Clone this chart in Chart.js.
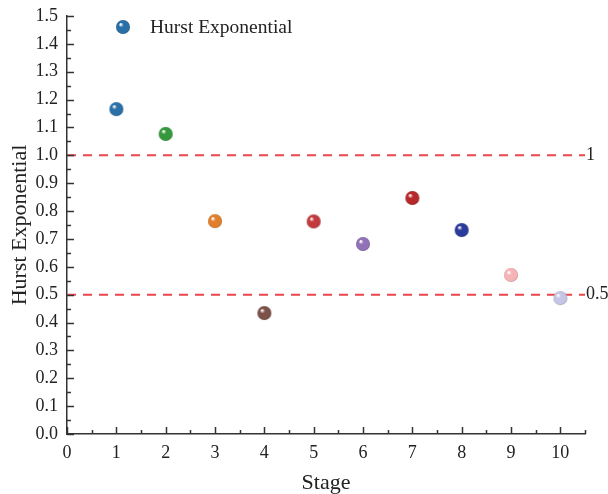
<!DOCTYPE html>
<html>
<head>
<meta charset="utf-8">
<script src="https://cdn.jsdelivr.net/npm/chart.js@4.4.0/dist/chart.umd.min.js"></script>
<style>
  html, body { margin: 0; padding: 0; background: #fff; }
  #wrap { width: 608px; height: 494px; }
</style>
</head>
<body>
<div id="wrap"><canvas id="hurstChart" width="608" height="494"></canvas></div>
<script>
const stages = [1, 2, 3, 4, 5, 6, 7, 8, 9, 10];
const hurst = [1.166, 1.077, 0.764, 0.434, 0.763, 0.682, 0.847, 0.732, 0.571, 0.488];
const pointColors = ['#2a70a8', '#35983b', '#e0802c', '#7b5148', '#c23a3c',
                     '#9272b6', '#b7282a', '#2b3b9b', '#f6b4b7', '#c6c5e6'];
const refLevels = [1, 0.5];
const refLabels = ['1', '0.5'];

const serif = "'Liberation Serif', 'Times New Roman', serif";
const axisColor = '#333';
const textColor = '#222';

// shaded ball used as the marker image
function makeBall(color, r) {
  const c = document.createElement('canvas');
  const size = r * 2 + 2;
  c.width = size; c.height = size;
  const g = c.getContext('2d');
  const cx = size / 2, cy = size / 2;
  const grad = g.createRadialGradient(cx - r * 0.35, cy - r * 0.4, 0.5, cx, cy, r);
  grad.addColorStop(0, '#ffffff');
  grad.addColorStop(0.3, color);
  grad.addColorStop(0.85, color);
  grad.addColorStop(1, shade(color, 0.8));
  g.fillStyle = grad;
  g.beginPath();
  g.arc(cx, cy, r, 0, Math.PI * 2);
  g.fill();
  return c;
}

function shade(hex, k) {
  const n = parseInt(hex.slice(1), 16);
  const r = Math.round(((n >> 16) & 255) * k);
  const gr = Math.round(((n >> 8) & 255) * k);
  const b = Math.round((n & 255) * k);
  return `rgb(${r},${gr},${b})`;
}

const balls = pointColors.map(c => makeBall(c, 7));

// inward major/minor ticks, reference labels and the legend
const decorations = {
  id: 'decorations',
  afterDraw(chart) {
    const { ctx, chartArea, scales: { x, y } } = chart;
    ctx.save();
    ctx.strokeStyle = axisColor;
    ctx.lineWidth = 1.5;
    ctx.beginPath();
    for (let i = 0; i <= 21; i++) {
      const px = Math.round(x.getPixelForValue(i * 0.5)) + 0.5;
      const len = i % 2 === 0 ? 7 : 4;
      ctx.moveTo(px, chartArea.bottom);
      ctx.lineTo(px, chartArea.bottom - len);
    }
    for (let i = 0; i <= 30; i++) {
      const py = Math.round(y.getPixelForValue(i * 0.05)) + 0.5;
      const len = i % 2 === 0 ? 7 : 4;
      ctx.moveTo(chartArea.left, py);
      ctx.lineTo(chartArea.left + len, py);
    }
    ctx.stroke();

    ctx.fillStyle = textColor;
    ctx.font = `18px ${serif}`;
    ctx.textBaseline = 'middle';
    ctx.textAlign = 'left';
    refLevels.forEach((v, i) => {
      ctx.fillText(refLabels[i], chartArea.right + 1, y.getPixelForValue(v));
    });

    // legend
    ctx.drawImage(balls[0], 123 - balls[0].width / 2, 27 - balls[0].height / 2);
    ctx.font = `19.5px ${serif}`;
    ctx.fillText('Hurst Exponential', 150, 28);
    ctx.restore();
  }
};

const refSets = refLevels.map(v => ({
  type: 'line',
  data: [{ x: 0, y: v }, { x: 10.5, y: v }],
  borderColor: '#e8464b',
  borderWidth: 2,
  borderDash: [9, 7],
  pointRadius: 0,
  fill: false
}));

new Chart(document.getElementById('hurstChart'), {
  type: 'scatter',
  data: {
    datasets: [
      {
        label: 'Hurst Exponential',
        data: stages.map((s, i) => ({ x: s, y: hurst[i] })),
        pointStyle: balls,
        pointRadius: 7,
        pointHoverRadius: 7
      },
      ...refSets
    ]
  },
  options: {
    responsive: false,
    animation: false,
    layout: { padding: { top: 16, right: 23, left: 0, bottom: 0 } },
    plugins: {
      legend: { display: false },
      tooltip: { enabled: false }
    },
    scales: {
      x: {
        type: 'linear',
        min: 0,
        max: 10.5,
        grid: { display: false, drawTicks: false },
        border: { display: true, color: axisColor, width: 1.5 },
        ticks: {
          stepSize: 1,
          includeBounds: false,
          padding: 8,
          autoSkip: false,
          maxRotation: 0,
          color: textColor,
          font: { family: serif, size: 18 }
        },
        title: {
          display: true,
          text: 'Stage',
          color: textColor,
          font: { family: serif, size: 22, lineHeight: 1 },
          padding: { top: 0, bottom: 0 }
        },
        afterFit(scale) {
          scale.height = 60;
          scale.paddingLeft = 0;
          scale.paddingRight = 0;
        }
      },
      y: {
        min: 0,
        max: 1.5,
        grid: { display: false, drawTicks: false },
        border: { display: true, color: axisColor, width: 1.5 },
        ticks: {
          stepSize: 0.1,
          padding: 9,
          autoSkip: false,
          color: textColor,
          font: { family: serif, size: 18 },
          callback: v => v.toFixed(1)
        },
        title: {
          display: true,
          text: 'Hurst Exponential',
          color: textColor,
          font: { family: serif, size: 22 },
          padding: { top: 7, bottom: 0 }
        },
        afterFit(scale) {
          scale.width = 67;
          scale.paddingTop = 0;
          scale.paddingBottom = 0;
        }
      }
    }
  },
  plugins: [decorations]
});
</script>
</body>
</html>
